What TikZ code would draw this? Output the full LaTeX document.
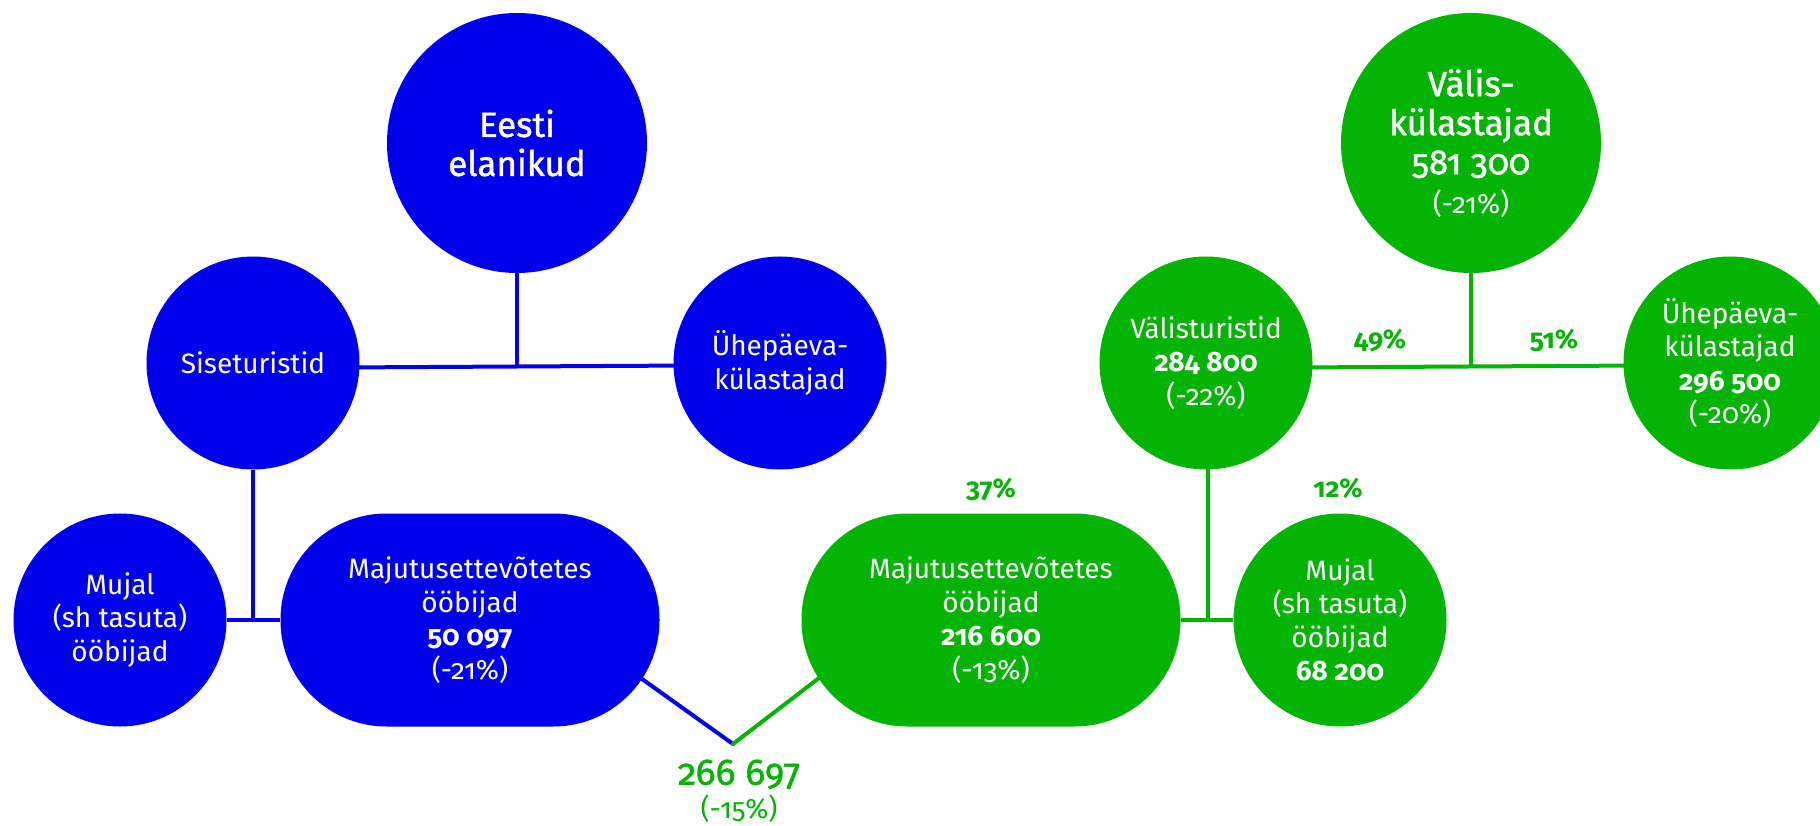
\documentclass[tikz,border=0pt]{standalone}
\usepackage{fontspec}
\setmainfont{Fira Sans}[Numbers=OldStyle]
\newfontfamily\medfont{Fira Sans}[Numbers=OldStyle, FakeBold=1.3]
\usetikzlibrary{backgrounds,calc}
\definecolor{eblue}{RGB}{0,0,235}
\definecolor{egreen}{RGB}{4,180,4}
\begin{document}
\begin{tikzpicture}[x=1pt,y=-1pt,
  txt/.style={font=\fontsize{28}{33.5}\selectfont, text=white, align=center},
  bigtxt/.style={font=\fontsize{35}{39}\selectfont\medfont},
  bcirc/.style={circle, fill=eblue, minimum size=213pt, inner sep=0pt, txt},
  gcirc/.style={circle, fill=egreen, minimum size=213pt, inner sep=0pt, txt},
  bigcirc/.style={minimum size=260pt},
  stad/.style={rectangle, rounded corners=106pt, minimum width=379pt, minimum height=213pt, inner sep=0pt, txt},
  bline/.style={draw=eblue, line width=4pt},
  gline/.style={draw=egreen, line width=4pt},
  pct/.style={font=\fontsize{27}{32}\selectfont\bfseries, text=egreen}
]
\useasboundingbox (0,0) rectangle (1820,826);

% blue side
\node[bcirc, bigcirc, bigtxt] (ee) at (517,143) {Eesti\\elanikud};
\node[bcirc] (sise) at (253,363) {Siseturistid};
\node[bcirc] (uheb) at (780,363) {Ühepäeva-\\külastajad};
\node[bcirc] (mujb) at (120,620) {Mujal\\(sh tasuta)\\ööbijad};
\node[stad, fill=eblue] (majb) at (470,620) {Majutusettevõtetes\\ööbijad\\{\bfseries 50 097}\\(-21\%)};

% green side
\node[stad, fill=egreen] (majg) at (991,620) {Majutusettevõtetes\\ööbijad\\{\bfseries 216 600}\\(-13\%)};
\node[gcirc] (mujg) at (1340,620) {Mujal\\(sh tasuta)\\ööbijad\\{\bfseries 68 200}};
\node[gcirc] (vt) at (1206,363) {Välisturistid\\{\bfseries 284 800}\\(-22\%)};
\node[gcirc, bigcirc, bigtxt] (vk) at (1471,143) {Välis-\\külastajad\\581 300\\{\fontsize{28}{33.5}\selectfont\rmfamily (-21\%)}};
\node[gcirc] (uheg) at (1730,363) {Ühepäeva-\\külastajad\\{\bfseries 296 500}\\(-20\%)};

% labels
\node[pct] (p49) at (1380,340) {49\%};
\node[pct] (p51) at (1554,340) {51\%};
\node[pct] (p37) at (991,489) {37\%};
\node[pct] (p12) at (1338,488) {12\%};
\node[font=\fontsize{28}{33.5}\selectfont, text=egreen, align=center] (tot) at (739,791) {{\fontsize{37}{39}\selectfont\medfont 266 697}\\(-15\%)};

\coordinate (jb) at (517,365);
\coordinate (jg) at (1471,365);
\coordinate (v) at (733,744);

\begin{scope}[on background layer]
  \draw[bline] (ee) -- (jb);
  \draw[bline] ($(sise)+(0,5)$) -- ($(uheb)+(0,2)$);
  \draw[bline] (sise) -- (sise |- mujb);
  \draw[bline] (mujb) -- (majb);
  \draw[bline, line cap=round] (v) -- ++(-110,-78.6);
  \draw[gline, line cap=round] (v) -- ++(110,-84.4);
  \draw[gline] (vk) -- (jg);
  \draw[gline] ($(vt)+(0,5)$) -- ($(uheg)+(0,2)$);
  \draw[gline] ($(vt)+(2,0)$) -- ($(vt |- majg)+(2,0)$);
  \draw[gline] (majg) -- (mujg);
\end{scope}
\end{tikzpicture}
\end{document}
